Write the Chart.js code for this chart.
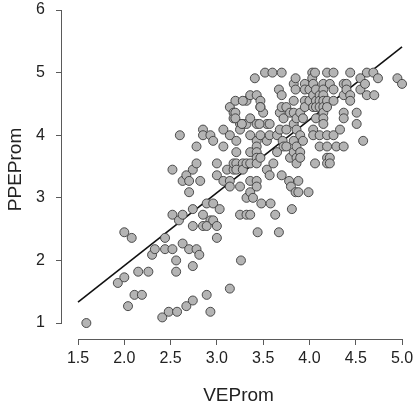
<!DOCTYPE html>
<html lang="en">
<head>
  <meta charset="UTF-8">
  <title>PPEProm vs VEProm</title>
  <script src="https://cdn.jsdelivr.net/npm/chart.js"></script>
  <style>
    body { margin: 0; background: #fff; }
    #wrap { width: 415px; height: 407px; }
  </style>
</head>
<body>
  <div id="wrap"><canvas id="chart" width="415" height="407"></canvas></div>

  <script>
    // values
    const veProm = [
      1.59, 1.93, 2.00, 2.00, 2.08, 2.04, 2.11, 2.15, 2.19, 2.26, 2.30, 2.33, 2.41, 2.48, 2.57, 2.44, 2.44, 2.52, 2.56, 2.56,
      2.52, 2.52, 2.59, 2.63, 2.63, 2.60, 2.63, 2.67, 2.70, 2.70, 2.74, 2.78, 2.78, 2.74, 2.74, 2.70, 2.78, 2.74, 2.81, 2.82,
      2.67, 2.74, 2.89, 2.93, 2.85, 2.85, 2.89, 2.93, 2.89, 2.96, 2.96, 3.00, 3.00, 3.03, 2.85, 2.85, 2.93, 2.96, 3.00, 3.00,
      3.07, 3.07, 3.07, 3.11, 3.14, 3.18, 3.14, 3.18, 3.14, 3.14, 3.14, 3.18, 3.18, 3.21, 3.21, 3.21, 3.21, 3.25, 3.25, 3.26,
      3.25, 3.25, 3.28, 3.28, 3.28, 3.20, 3.32, 3.32, 3.32, 3.32, 3.32, 3.36, 3.36, 3.36, 3.36, 3.36, 3.36, 3.36, 3.36, 3.39,
      3.41, 3.43, 3.43, 3.43, 3.43, 3.43, 3.43, 3.43, 3.43, 3.43, 3.44, 3.47, 3.47, 3.47, 3.47, 3.48, 3.50, 3.52, 3.54, 3.54,
      3.54, 3.57, 3.57, 3.60, 3.58, 3.61, 3.63, 3.65, 3.65, 3.67, 3.67, 3.68, 3.68, 3.70, 3.70, 3.70, 3.70, 3.71, 3.72, 3.72,
      3.75, 3.75, 3.75, 3.78, 3.79, 3.79, 3.80, 3.81, 3.83, 3.83, 3.83, 3.83, 3.83, 3.83, 3.85, 3.85, 3.85, 3.86, 3.86, 3.86,
      3.86, 3.86, 3.88, 3.88, 3.90, 3.90, 3.90, 3.90, 3.93, 3.93, 3.95, 3.95, 3.95, 3.95, 3.99, 4.00, 4.00, 4.03, 4.03, 4.04,
      4.04, 4.04, 4.04, 4.04, 4.06, 4.06, 4.07, 4.07, 4.07, 4.07, 4.11, 4.11, 4.11, 4.11, 4.11, 4.15, 4.15, 4.15, 4.15, 4.15,
      4.15, 4.15, 4.15, 4.19, 4.19, 4.19, 4.19, 4.19, 4.19, 4.19, 4.22, 4.22, 4.22, 4.26, 4.26, 4.26, 4.26, 4.29, 4.33, 4.37,
      4.37, 4.37, 4.37, 4.37, 4.40, 4.40, 4.44, 4.44, 4.44, 4.51, 4.51, 4.55, 4.55, 4.58, 4.60, 4.62, 4.62, 4.69, 4.70, 4.74,
      4.95, 5.00, 3.20, 3.20, 3.27, 3.46, 3.57, 3.28, 3.47
    ];
    const ppeProm = [
      1.00, 1.64, 1.73, 2.45, 2.36, 1.27, 1.45, 1.82, 1.45, 1.82, 2.09, 2.18, 1.09, 1.18, 1.18, 2.18, 2.36, 2.18, 2.00, 1.82,
      3.45, 2.73, 2.64, 2.73, 2.27, 4.00, 3.27, 3.36, 3.27, 3.09, 3.45, 3.55, 3.82, 2.82, 2.55, 2.18, 2.18, 1.91, 2.09, 3.27,
      1.27, 1.36, 1.45, 1.18, 2.73, 2.55, 2.91, 2.64, 2.55, 2.91, 2.64, 2.55, 2.36, 2.82, 4.09, 4.00, 4.00, 3.91, 3.55, 3.36,
      4.09, 3.82, 3.27, 3.45, 4.45, 4.36, 4.00, 4.27, 1.55, 3.27, 3.18, 3.45, 3.55, 3.91, 3.73, 3.55, 3.45, 3.18, 2.73, 2.00,
      4.18, 4.09, 4.18, 3.55, 3.45, 4.55, 4.55, 4.18, 3.55, 3.00, 2.73, 4.64, 4.27, 4.00, 3.73, 3.55, 3.27, 3.09, 2.73, 3.00,
      4.91, 4.64, 4.18, 3.91, 3.82, 3.73, 3.64, 3.55, 3.27, 3.18, 2.45, 4.55, 4.45, 4.00, 3.64, 2.91, 4.36, 5.00, 3.91, 4.18,
      3.45, 4.00, 3.36, 5.00, 2.91, 3.55, 2.73, 4.00, 3.73, 2.45, 4.73, 4.36, 4.09, 5.00, 4.64, 4.45, 3.36, 3.91, 3.82, 4.27,
      4.45, 4.09, 3.82, 3.27, 4.36, 3.64, 3.18, 2.82, 4.82, 4.55, 4.36, 4.18, 3.91, 3.73, 4.91, 4.73, 3.09, 4.27, 4.09, 3.82,
      3.64, 3.55, 3.27, 3.09, 4.36, 4.00, 3.73, 3.64, 4.27, 3.91, 4.82, 4.73, 4.55, 4.45, 3.09, 4.73, 4.55, 5.00, 4.91, 4.82,
      4.64, 4.45, 4.09, 4.00, 5.00, 3.55, 4.73, 4.55, 4.45, 4.27, 4.64, 4.55, 4.45, 4.00, 3.82, 4.82, 4.73, 4.64, 4.55, 4.45,
      4.36, 4.27, 4.18, 5.00, 4.55, 4.45, 4.00, 3.82, 3.64, 3.55, 4.82, 3.64, 3.55, 5.00, 4.73, 4.55, 4.00, 3.82, 4.09, 4.82,
      4.64, 4.36, 4.27, 3.82, 4.82, 4.73, 5.00, 4.64, 4.55, 4.36, 4.18, 4.91, 4.73, 3.91, 4.82, 5.00, 4.64, 5.00, 4.64, 4.91,
      4.91, 4.82, 4.36, 4.27, 4.18, 4.18, 4.18, 4.55, 4.45
    ];

    // fitted line, ends
    const fitX = [1.5, 5.0];
    const fitY = [1.335, 5.41];

    const xTicks = [1.5, 2.0, 2.5, 3.0, 3.5, 4.0, 4.5, 5.0];
    const yTicks = [1, 2, 3, 4, 5, 6];

    const points = veProm.map((v, i) => ({ x: v, y: ppeProm[i] }));
    const line = fitX.map((v, i) => ({ x: v, y: fitY[i] }));

    const axisColor = '#5a5a5a';
    const textColor = '#222';
    const font = { family: '"Liberation Sans", Arial, sans-serif', size: 16 };

    // R-style axis line: only from first tick to last tick
    const axisLines = {
      id: 'axisLines',
      afterDraw(chart) {
        const c = chart.ctx, a = chart.chartArea;
        const xs = chart.scales.x, ys = chart.scales.y;
        c.save();
        c.strokeStyle = axisColor;
        c.lineWidth = 1;
        c.beginPath();
        c.moveTo(xs.getPixelForValue(xTicks[0]), a.bottom + 0.5);
        c.lineTo(xs.getPixelForValue(xTicks[xTicks.length - 1]), a.bottom + 0.5);
        c.moveTo(a.left - 0.5, ys.getPixelForValue(yTicks[0]));
        c.lineTo(a.left - 0.5, ys.getPixelForValue(yTicks[yTicks.length - 1]));
        c.stroke();
        c.restore();
      }
    };

    new Chart(document.getElementById('chart'), {
      type: 'scatter',
      data: {
        datasets: [{
          label: 'PPEProm',
          data: points,
          pointRadius: 4.5,
          pointBackgroundColor: '#b4b4b4',
          pointBorderColor: '#3c3c3c',
          pointBorderWidth: 0.9
        }, {
          type: 'line',
          label: 'fit',
          data: line,
          borderColor: '#111',
          borderWidth: 1.6,
          pointRadius: 0,
          fill: false
        }]
      },
      plugins: [axisLines],
      options: {
        responsive: false,
        animation: false,
        devicePixelRatio: 1,
        layout: { padding: 0, autoPadding: false },
        plugins: { legend: { display: false }, tooltip: { enabled: false } },
        scales: {
          x: {
            type: 'linear',
            min: 1.327,
            max: 5.14,
            afterBuildTicks: s => { s.ticks = xTicks.map(v => ({ value: v })); },
            afterFit: s => { s.height = 68; s.paddingLeft = 0; s.paddingRight = 0; },
            border: { display: false },
            grid: { drawOnChartArea: false, drawTicks: true, tickLength: 6, color: axisColor },
            ticks: { autoSkip: false, maxRotation: 0, padding: 4, color: textColor, font: font,
                     callback: v => Number(v).toFixed(1) },
            title: { display: true, text: 'VEProm', color: textColor,
                     font: { family: font.family, size: 19 }, padding: { top: 0, bottom: 0 } }
          },
          y: {
            type: 'linear',
            min: 0.745,
            max: 6.16,
            afterBuildTicks: s => { s.ticks = yTicks.map(v => ({ value: v })); },
            afterFit: s => { s.width = 62; s.paddingTop = 0; s.paddingBottom = 0; },
            border: { display: false },
            grid: { drawOnChartArea: false, drawTicks: true, tickLength: 6, color: axisColor },
            ticks: { autoSkip: false, padding: 11, color: textColor, font: font,
                     callback: v => String(v) },
            title: { display: true, text: 'PPEProm', color: textColor,
                     font: { family: font.family, size: 19 }, padding: { top: 4, bottom: 2 } }
          }
        }
      }
    });
  </script>
</body>
</html>
